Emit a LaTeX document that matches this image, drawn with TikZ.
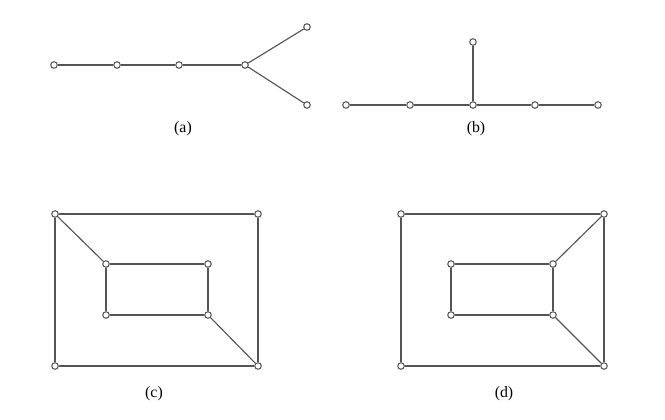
\documentclass[tikz,border=0pt]{standalone}
\usepackage{fontspec}
\setmainfont{Liberation Serif}
\usepackage{xcolor}
\definecolor{edgegray}{HTML}{555555}

\begin{document}
\begin{tikzpicture}[
    x=0.02cm, y=-0.02cm,
    draw=edgegray, line width=0.65pt,
    vtx/.style={circle, draw=edgegray, fill=white, line width=0.6pt, inner sep=0pt, minimum size=0.13cm},
    lbl/.style={font=\fontsize{9}{11}\selectfont, inner sep=0pt}
]
\useasboundingbox (0,0) rectangle (665,419);

% (a)
\node[vtx] (a1) at (54,65) {};
\node[vtx] (a2) at (117,65) {};
\node[vtx] (a3) at (179,65) {};
\node[vtx] (a4) at (245,65) {};
\node[vtx] (a5) at (307,27) {};
\node[vtx] (a6) at (307,105) {};
\draw (a1) -- (a2) -- (a3) -- (a4);
\draw (a4) -- (a5);
\draw (a4) -- (a6);
\node[lbl] (la) at (183,129) {(a)};

% (b)
\node[vtx] (b1) at (346,105) {};
\node[vtx] (b2) at (410,105) {};
\node[vtx] (b3) at (473,105) {};
\node[vtx] (b4) at (535,105) {};
\node[vtx] (b5) at (598,105) {};
\node[vtx] (b6) at (473,42) {};
\draw (b1) -- (b2) -- (b3) -- (b4) -- (b5);
\draw (b3) -- (b6);
\node[lbl] (lb) at (476,129) {(b)};

% (c)
\node[vtx] (c1) at (55,214) {};
\node[vtx] (c2) at (258,214) {};
\node[vtx] (c3) at (258,366) {};
\node[vtx] (c4) at (55,366) {};
\node[vtx] (c5) at (106,264) {};
\node[vtx] (c6) at (208,264) {};
\node[vtx] (c7) at (208,315) {};
\node[vtx] (c8) at (106,315) {};
\draw (c1) -- (c2) -- (c3) -- (c4) -- (c1);
\draw (c5) -- (c6) -- (c7) -- (c8) -- (c5);
\draw (c1) -- (c5);
\draw (c7) -- (c3);
\node[lbl] (lc) at (154,394) {(c)};

% (d)
\node[vtx] (d1) at (401,214) {};
\node[vtx] (d2) at (604,214) {};
\node[vtx] (d3) at (604,366) {};
\node[vtx] (d4) at (401,366) {};
\node[vtx] (d5) at (451,264) {};
\node[vtx] (d6) at (553,264) {};
\node[vtx] (d7) at (553,315) {};
\node[vtx] (d8) at (451,315) {};
\draw (d1) -- (d2) -- (d3) -- (d4) -- (d1);
\draw (d5) -- (d6) -- (d7) -- (d8) -- (d5);
\draw (d6) -- (d2);
\draw (d7) -- (d3);
\node[lbl] (ld) at (504,394) {(d)};

\end{tikzpicture}
\end{document}
